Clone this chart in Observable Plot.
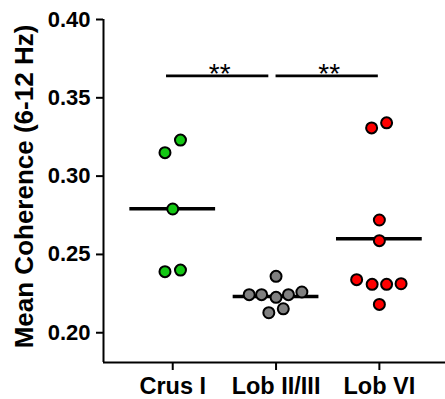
<!DOCTYPE html>
<html><head><meta charset="utf-8">
<script src="https://cdn.jsdelivr.net/npm/d3@7"></script>
<script src="https://cdn.jsdelivr.net/npm/@observablehq/plot@0.6"></script>
<style>
body{margin:0;background:#fff;}
g[aria-label="sig"] text{letter-spacing:3px;}
</style></head><body><div id="chart"></div>
<script>
const groups = ["Crus I", "Lob II/III", "Lob VI"];
const crusI = [0.323, 0.315, 0.279, 0.240, 0.239];
const crusIJitter = [0.075, -0.075, 0, 0.075, -0.075];
const lob23 = [0.236, 0.2243, 0.2243, 0.2226, 0.2243, 0.226, 0.2128, 0.2153];
const lob23Jitter = [0, -0.26, -0.14, 0, 0.12, 0.25, -0.07, 0.07];
const lob6 = [0.3308, 0.334, 0.272, 0.2588, 0.2339, 0.2309, 0.2309, 0.2313, 0.2181];
const lob6Jitter = [-0.075, 0.07, 0, 0, -0.22, -0.07, 0.07, 0.21, 0];
const colors = ["#14c814", "#808080", "#ff0000"];
const yTicks = [0.20, 0.25, 0.30, 0.35, 0.40];
const yDomain = [0.181, 0.40];
const xDomain = [-0.67, 2.64];
const sigPairs = [[0, 1], [1, 2]];
const sigLabels = ["**", "**"];
const sigShift = [-0.06, 0];
const sigY = 0.364;
const yLabel = "Mean Coherence (6-12 Hz)";

const series = [crusI, lob23, lob6];
const jitters = [crusIJitter, lob23Jitter, lob6Jitter];
const points = series.flatMap((vals, i) => vals.map((v, j) => ({i, v, off: jitters[i][j], color: colors[i]})));
const means = series.map((vals, i) => ({i, mean: d3.mean(vals)}));
const sig = sigPairs.map(([a, b], k) => ({a, b, label: sigLabels[k], shift: sigShift[k]}));

const chart = Plot.plot({
  width: 445,
  height: 399,
  marginLeft: 103,
  marginRight: 0,
  marginTop: 19,
  marginBottom: 37,
  style: {fontFamily: "'Liberation Sans', Arial, sans-serif", fontWeight: "bold", color: "black", background: "white"},
  x: {type: "linear", domain: xDomain, axis: null},
  y: {domain: yDomain, axis: null},
  marks: [
    Plot.axisY(yTicks, {tickSize: 7, tickPadding: 6, tickFormat: d3.format(".2f"), fontSize: 22, strokeWidth: 2, label: null}),
    Plot.axisX([0, 1, 2], {tickSize: 8, tickPadding: 7, tickFormat: i => groups[i], fontSize: 23.5, strokeWidth: 2, label: null}),
    Plot.ruleX([xDomain[0]], {stroke: "black", strokeWidth: 2}),
    Plot.ruleY([yDomain[0]], {stroke: "black", strokeWidth: 2}),
    Plot.ruleY(means, {x1: d => d.i - 0.415, x2: d => d.i + 0.415, y: "mean", stroke: "black", strokeWidth: 3.5}),
    Plot.dot(points, {x: d => d.i + d.off, y: "v", r: 5.5, fill: "color", stroke: "black", strokeWidth: 2}),
    Plot.ruleY(sig, {x1: d => d.a + d.shift, x2: d => d.b + d.shift - 0.01, y: sigY, stroke: "black", strokeWidth: 2.6}),
    Plot.text(sig, {x: d => (d.a + d.b) / 2 + d.shift + 0.015, y: sigY, text: "label", lineAnchor: "bottom", dy: 7, fontSize: 28, fontWeight: "normal", ariaLabel: "sig"}),
    Plot.text([yLabel], {frameAnchor: "left", rotate: -90, textAnchor: "middle", lineAnchor: "middle", dx: -79, dy: -4.5, fontSize: 26, fontWeight: "bold"})
  ]
});
document.getElementById("chart").appendChild(chart);
</script></body></html>
